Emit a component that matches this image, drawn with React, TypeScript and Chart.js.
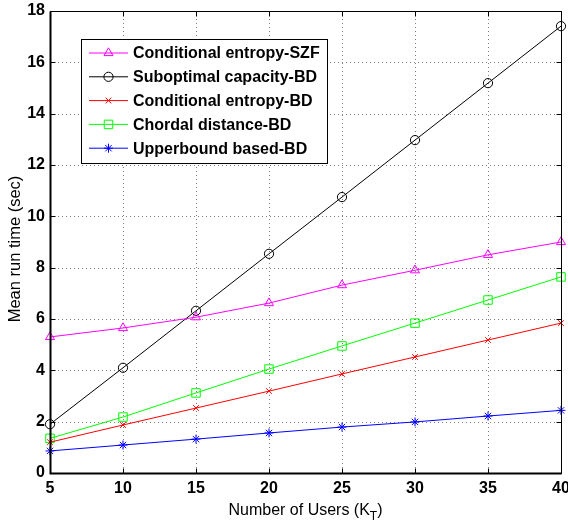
import React, { useEffect, useRef } from "react";
import { Chart, registerables } from "chart.js";
import { drawPoint } from "chart.js/helpers";

Chart.register(...registerables);

const users = [5, 10, 15, 20, 25, 30, 35, 40];
const condEntropySZF = [5.3, 5.65, 6.07, 6.62, 7.32, 7.9, 8.5, 9.0];
const suboptCapacityBD = [1.9, 4.1, 6.32, 8.54, 10.75, 12.97, 15.19, 17.41];
const condEntropyBD = [1.2, 1.87, 2.53, 3.19, 3.86, 4.52, 5.18, 5.84];
const chordalBD = [1.35, 2.18, 3.12, 4.05, 4.95, 5.84, 6.74, 7.64];
const upperboundBD = [0.86, 1.09, 1.32, 1.56, 1.79, 1.99, 2.22, 2.44];

const seriesNames = [
  "Conditional entropy-SZF",
  "Suboptimal capacity-BD",
  "Conditional entropy-BD",
  "Chordal distance-BD",
  "Upperbound based-BD",
];
const xTicks = [5, 10, 15, 20, 25, 30, 35, 40];
const yTicks = [0, 2, 4, 6, 8, 10, 12, 14, 16, 18];

const FONT = "'Liberation Sans', Arial, sans-serif";

const framePlugin = {
  id: "matlabFrame",
  beforeDatasetsDraw(chart: any) {
    const { ctx, chartArea: a, scales } = chart;
    ctx.save();
    ctx.strokeStyle = "#808080";
    ctx.lineWidth = 1;
    ctx.setLineDash([1, 3]);
    for (const v of xTicks) {
      const x = Math.round(scales.x.getPixelForValue(v)) + 0.5;
      ctx.beginPath();
      ctx.moveTo(x, a.top);
      ctx.lineTo(x, a.bottom);
      ctx.stroke();
    }
    for (const v of yTicks) {
      const y = Math.round(scales.y.getPixelForValue(v)) + 0.5;
      ctx.beginPath();
      ctx.moveTo(a.left, y);
      ctx.lineTo(a.right, y);
      ctx.stroke();
    }
    ctx.restore();
  },
  afterDatasetsDraw(chart: any) {
    const { ctx, chartArea: a, scales } = chart;
    ctx.save();
    ctx.setLineDash([]);
    ctx.strokeStyle = "#000";
    ctx.lineWidth = 1;
    const L = Math.round(a.left) + 0.5;
    const R = Math.round(a.right) + 0.5;
    const T = Math.round(a.top) + 0.5;
    const B = Math.round(a.bottom) + 0.5;
    ctx.strokeRect(L, T, R - L, B - T);
    ctx.lineWidth = 2;
    ctx.beginPath();
    ctx.moveTo(L, T);
    ctx.lineTo(L, B);
    ctx.lineTo(R, B);
    ctx.stroke();
    ctx.lineWidth = 1;
    const tl = 5;
    for (const v of xTicks) {
      const x = Math.round(scales.x.getPixelForValue(v)) + 0.5;
      ctx.beginPath();
      ctx.moveTo(x, B);
      ctx.lineTo(x, B - tl);
      ctx.moveTo(x, T);
      ctx.lineTo(x, T + tl);
      ctx.stroke();
    }
    for (const v of yTicks) {
      const y = Math.round(scales.y.getPixelForValue(v)) + 0.5;
      ctx.beginPath();
      ctx.moveTo(L, y);
      ctx.lineTo(L + tl, y);
      ctx.moveTo(R, y);
      ctx.lineTo(R - tl, y);
      ctx.stroke();
    }

    // Legend
    const bx = 81.5, by = 39.5, bw = 246, bh = 124;
    ctx.fillStyle = "#fff";
    ctx.fillRect(bx, by, bw, bh);
    ctx.strokeStyle = "#000";
    ctx.lineWidth = 1;
    ctx.strokeRect(bx, by, bw, bh);
    chart.data.datasets.forEach((ds: any, i: number) => {
      const y = 53 + i * 23.8;
      ctx.strokeStyle = ds.borderColor;
      ctx.lineWidth = 1;
      ctx.beginPath();
      ctx.moveTo(89, y);
      ctx.lineTo(128, y);
      ctx.stroke();
      ctx.fillStyle = "rgba(0,0,0,0)";
      drawPoint(ctx, { pointStyle: ds.pointStyle, radius: ds.pointRadius, rotation: 0, borderWidth: 1 }, 108.5, y);
      ctx.fillStyle = "#000";
      ctx.font = `bold 16px ${FONT}`;
      ctx.textAlign = "left";
      ctx.textBaseline = "middle";
      ctx.fillText(ds.label, 133, y + 1);
    });

    // Axis titles
    ctx.fillStyle = "#000";
    ctx.textBaseline = "middle";
    const main = "Number of Users (K";
    const sub = "T";
    const close = ")";
    ctx.font = `16px ${FONT}`;
    const w1 = ctx.measureText(main).width;
    ctx.font = `12px ${FONT}`;
    const w2 = ctx.measureText(sub).width;
    ctx.font = `16px ${FONT}`;
    const w3 = ctx.measureText(close).width;
    const cx = (a.left + a.right) / 2;
    const sx = cx - (w1 + w2 + w3) / 2;
    const ty = 511;
    ctx.textAlign = "left";
    ctx.fillText(main, sx, ty);
    ctx.font = `12px ${FONT}`;
    ctx.fillText(sub, sx + w1, ty + 6);
    ctx.font = `16px ${FONT}`;
    ctx.fillText(close, sx + w1 + w2, ty);

    ctx.save();
    ctx.translate(15, 249);
    ctx.rotate(-Math.PI / 2);
    ctx.textAlign = "center";
    ctx.font = `16.5px ${FONT}`;
    ctx.fillText("Mean run time (sec)", 0, 0);
    ctx.restore();
    ctx.restore();
  },
};

export default function App() {
  const ref = useRef<HTMLCanvasElement | null>(null);
  useEffect(() => {
    document.body.style.margin = "0";
    const mk = (label: string, data: number[], color: string, style: string, r: number) => ({
      label,
      data: users.map((u, i) => ({ x: u, y: data[i] })),
      borderColor: color,
      backgroundColor: "rgba(0,0,0,0)",
      pointBackgroundColor: "rgba(0,0,0,0)",
      pointBorderColor: color,
      pointBorderWidth: 1,
      pointStyle: style,
      pointRadius: r,
      borderWidth: 1,
      tension: 0,
      clip: false as any,
    });
    const chart = new Chart(ref.current!, {
      type: "line",
      data: {
        datasets: [
          mk(seriesNames[0], condEntropySZF, "#ff00ff", "triangle", 5.2),
          mk(seriesNames[1], suboptCapacityBD, "#000000", "circle", 4.6),
          mk(seriesNames[2], condEntropyBD, "#ff0000", "crossRot", 4),
          mk(seriesNames[3], chordalBD, "#00ff00", "rect", 6),
          mk(seriesNames[4], upperboundBD, "#0000ff", "star", 4.5),
        ],
      },
      options: {
        animation: false,
        responsive: false,
        layout: { padding: { top: 11, right: 6, left: 0, bottom: 0 } },
        plugins: { legend: { display: false }, tooltip: { enabled: false } },
        scales: {
          x: {
            type: "linear",
            min: 5,
            max: 40,
            afterFit: (s: any) => { s.height = 52; s.paddingLeft = 0; s.paddingRight = 0; },
            afterBuildTicks: (s: any) => { s.ticks = xTicks.map((v) => ({ value: v })); },
            ticks: { color: "#000", font: { family: FONT, size: 16, weight: "bold" }, padding: 6, maxRotation: 0, autoSkip: false },
            grid: { display: false, drawTicks: false },
            border: { display: false },
          },
          y: {
            min: 0,
            max: 18,
            afterFit: (s: any) => { s.width = 50; s.paddingTop = 0; s.paddingBottom = 0; },
            afterBuildTicks: (s: any) => { s.ticks = yTicks.map((v) => ({ value: v })); },
            ticks: { color: "#000", font: { family: FONT, size: 16, weight: "bold" }, padding: 5, autoSkip: false },
            grid: { display: false, drawTicks: false },
            border: { display: false },
          },
        },
      } as any,
      plugins: [framePlugin],
    });
    return () => chart.destroy();
  }, []);
  return <canvas ref={ref} width={568} height={525} style={{ display: "block" }} />;
}
